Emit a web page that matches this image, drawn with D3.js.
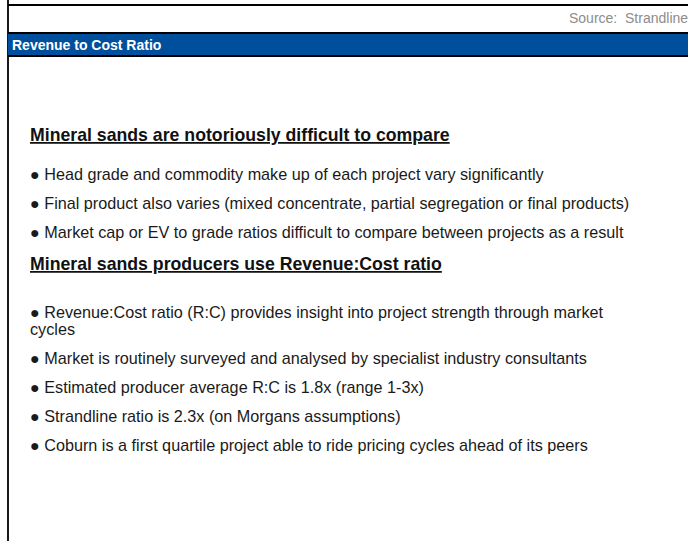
<!DOCTYPE html>
<html>
<head>
<meta charset="utf-8">
<script src="https://cdn.jsdelivr.net/npm/d3@7"></script>
<style>
    body { margin: 0; background: #fff; }
    svg { display: block; font-family: "Liberation Sans", Arial, sans-serif; }
</style>
</head>
<body>
<svg id="chart"></svg>
<script>
const WIDTH = 688;
const HEIGHT = 541;

const SOURCE_TEXT = 'Source:  Strandline';
const HEADER_TITLE = 'Revenue to Cost Ratio';

const SECTION_HEADINGS = [
    'Mineral sands are notoriously difficult to compare',
    'Mineral sands producers use Revenue:Cost ratio'
];

// each bullet is a list of its printed lines
const SECTION_BULLETS = [
    [
        ['Head grade and commodity make up of each project vary significantly'],
        ['Final product also varies (mixed concentrate, partial segregation or final products)'],
        ['Market cap or EV to grade ratios difficult to compare between projects as a result']
    ],
    [
        ['Revenue:Cost ratio (R:C) provides insight into project strength through market', 'cycles'],
        ['Market is routinely surveyed and analysed by specialist industry consultants'],
        ['Estimated producer average R:C is 1.8x (range 1-3x)'],
        ['Strandline ratio is 2.3x (on Morgans assumptions)'],
        ['Coburn is a first quartile project able to ride pricing cycles ahead of its peers']
    ]
];

const svg = d3.select('#chart')
    .attr('width', WIDTH)
    .attr('height', HEIGHT);

// frame lines
svg.append('line')
    .attr('x1', 8).attr('x2', 8)
    .attr('y1', 0).attr('y2', HEIGHT)
    .attr('stroke', '#000').attr('stroke-width', 1.8);
svg.append('line')
    .attr('x1', 8).attr('x2', WIDTH)
    .attr('y1', 5).attr('y2', 5)
    .attr('stroke', '#000').attr('stroke-width', 2);

// source line, kept just inside the right edge
svg.append('text')
    .attr('x', 569)
    .attr('y', 23)
    .attr('fill', '#8c8c8c')
    .attr('font-size', 14)
    .attr('xml:space', 'preserve')
    .style('white-space', 'pre')
    .text(SOURCE_TEXT);

// blue header band
svg.append('rect')
    .attr('x', 8).attr('y', 33)
    .attr('width', WIDTH - 8).attr('height', 23)
    .attr('fill', '#004f9c');
svg.append('line')
    .attr('x1', 8).attr('x2', WIDTH)
    .attr('y1', 33).attr('y2', 33)
    .attr('stroke', '#000').attr('stroke-width', 2);
svg.append('line')
    .attr('x1', 8).attr('x2', WIDTH)
    .attr('y1', 56).attr('y2', 56)
    .attr('stroke', '#000').attr('stroke-width', 2);
svg.append('text')
    .attr('x', 12)
    .attr('y', 50)
    .attr('fill', '#fff')
    .attr('font-size', 14)
    .attr('font-weight', 'bold')
    .text(HEADER_TITLE);

// body text
const LEFT = 30;
const headingBase = [141, 270];
const bulletBase = [180, 318];
const bulletGap = 29;
const wrapGap = 17;

SECTION_HEADINGS.forEach((heading, i) => {
    svg.append('text')
        .attr('x', LEFT)
        .attr('y', headingBase[i])
        .attr('font-size', 17.7)
        .attr('font-weight', 'bold')
        .attr('text-decoration', 'underline')
        .attr('fill', '#111')
        .text(heading);

    let y = bulletBase[i];
    SECTION_BULLETS[i].forEach((lines) => {
        lines.forEach((line, j) => {
            svg.append('text')
                .attr('x', LEFT)
                .attr('y', y + j * wrapGap)
                .attr('font-size', 16.2)
                .attr('fill', '#1a1a1a')
                .attr('xml:space', 'preserve')
                .style('white-space', 'pre')
                .text(j === 0 ? '\u25CF ' + line : line);
        });
        y += bulletGap + (lines.length - 1) * wrapGap;
    });
});
</script>
</body>
</html>
